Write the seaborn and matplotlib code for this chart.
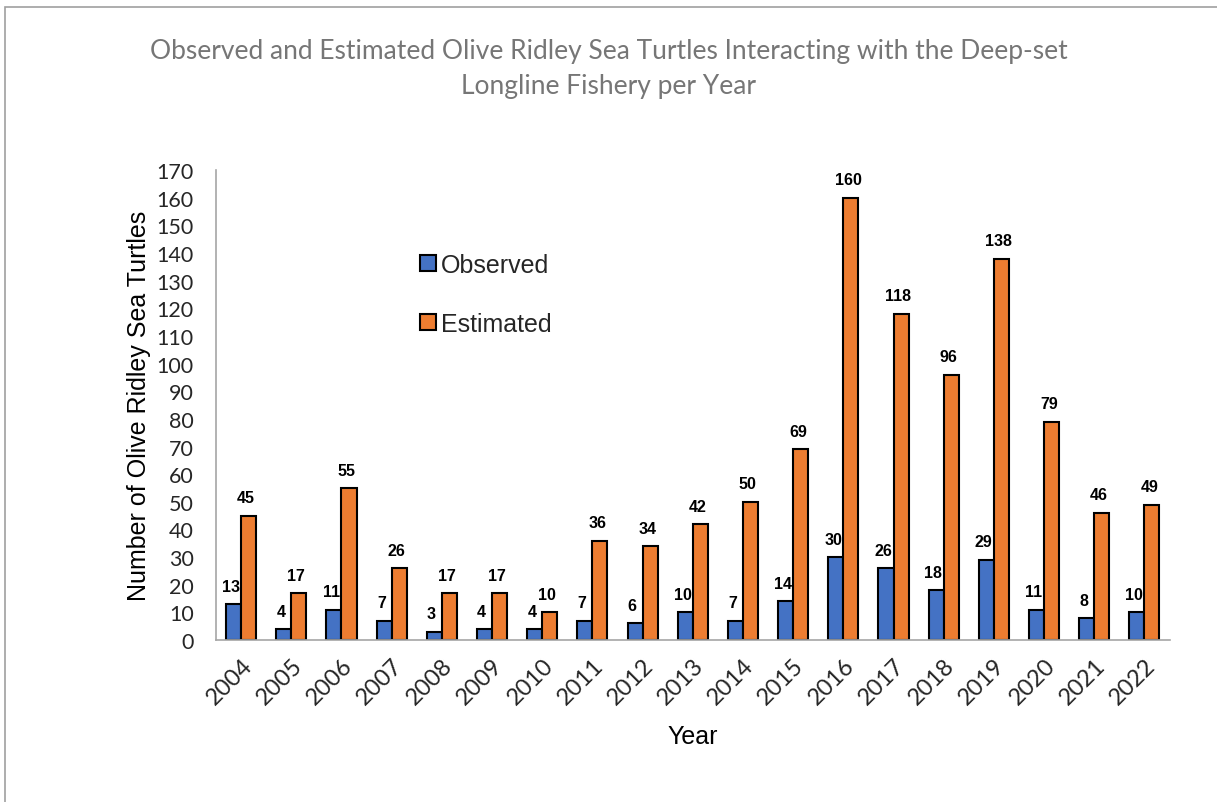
import matplotlib
matplotlib.use("Agg")
import matplotlib.pyplot as plt
import seaborn as sns
import pandas as pd
from matplotlib.patches import Rectangle

years = ["2004", "2005", "2006", "2007", "2008", "2009", "2010", "2011", "2012", "2013",
         "2014", "2015", "2016", "2017", "2018", "2019", "2020", "2021", "2022"]
observed = [13, 4, 11, 7, 3, 4, 4, 7, 6, 10, 7, 14, 30, 26, 18, 29, 11, 8, 10]
estimated = [45, 17, 55, 26, 17, 17, 10, 36, 34, 42, 50, 69, 160, 118, 96, 138, 79, 46, 49]
series = ["Observed", "Estimated"]
colors = ["#4472C4", "#ED7D31"]
yticks = list(range(0, 171, 10))

df = pd.DataFrame({
    "Year": years * 2,
    "Value": observed + estimated,
    "Series": [series[0]] * len(years) + [series[1]] * len(years),
})

sns.set_theme(style="white")
plt.rcParams["font.family"] = ["Liberation Sans", "DejaVu Sans"]

fig = plt.figure(figsize=(12.17, 8.03), dpi=100)
ax = fig.add_axes([0.1775, 0.2017, 0.7835, 0.5853])

sns.barplot(data=df, x="Year", y="Value", hue="Series", palette=colors,
            saturation=1, width=0.6, edgecolor="black", linewidth=1.5, ax=ax, legend=True)

for cont in ax.containers:
    texts = ax.bar_label(cont, padding=7.5, fontsize=11.5, fontweight="bold", color="black",
                         family="Liberation Sans")
    for t in texts:
        x0, y0 = t.xyann
        t.xyann = (x0 - 2, y0)

ax.set_ylim(0, 170)
ax.set_xlim(-0.5, len(years) - 0.5)
ax.set_yticks(yticks)
ax.set_yticklabels([str(t) for t in yticks], fontsize=15.5, family="Lato")
ax.set_xticks(range(len(years)))
ax.set_xticklabels(years, rotation=45, ha="right", rotation_mode="anchor",
                   fontsize=17, family="Lato")
ax.tick_params(axis="y", length=0, pad=16)
ax.tick_params(axis="x", length=0, pad=10)

for s in ["top", "right"]:
    ax.spines[s].set_visible(False)
for s in ["left", "bottom"]:
    ax.spines[s].set_color("#A6A6A6")
    ax.spines[s].set_linewidth(1.2)

ax.set_xlabel("Year", fontsize=18, color="black", labelpad=12)
ax.set_ylabel("Number of Olive Ridley Sea Turtles", fontsize=18, color="black", labelpad=4)

leg = ax.legend(loc="upper left", bbox_to_anchor=(0.19, 0.872), frameon=False,
                fontsize=18, handlelength=0.65, handleheight=0.65, handletextpad=0.2,
                labelspacing=1.4)
for h in leg.legend_handles:
    h.set_edgecolor("black")
    h.set_linewidth(1.5)

fig.text(0.5, 0.952, "Observed and Estimated Olive Ridley Sea Turtles Interacting with the Deep-set\nLongline Fishery per Year",
         ha="center", va="top", fontsize=19, color="#767676", family="Lato", linespacing=1.5)

fig.patches.append(Rectangle((0.004, -0.01), 1.2, 1.0, transform=fig.transFigure,
                             fill=False, edgecolor="#A0A0A0", linewidth=1.2))

fig.savefig("out.png", dpi=100)
